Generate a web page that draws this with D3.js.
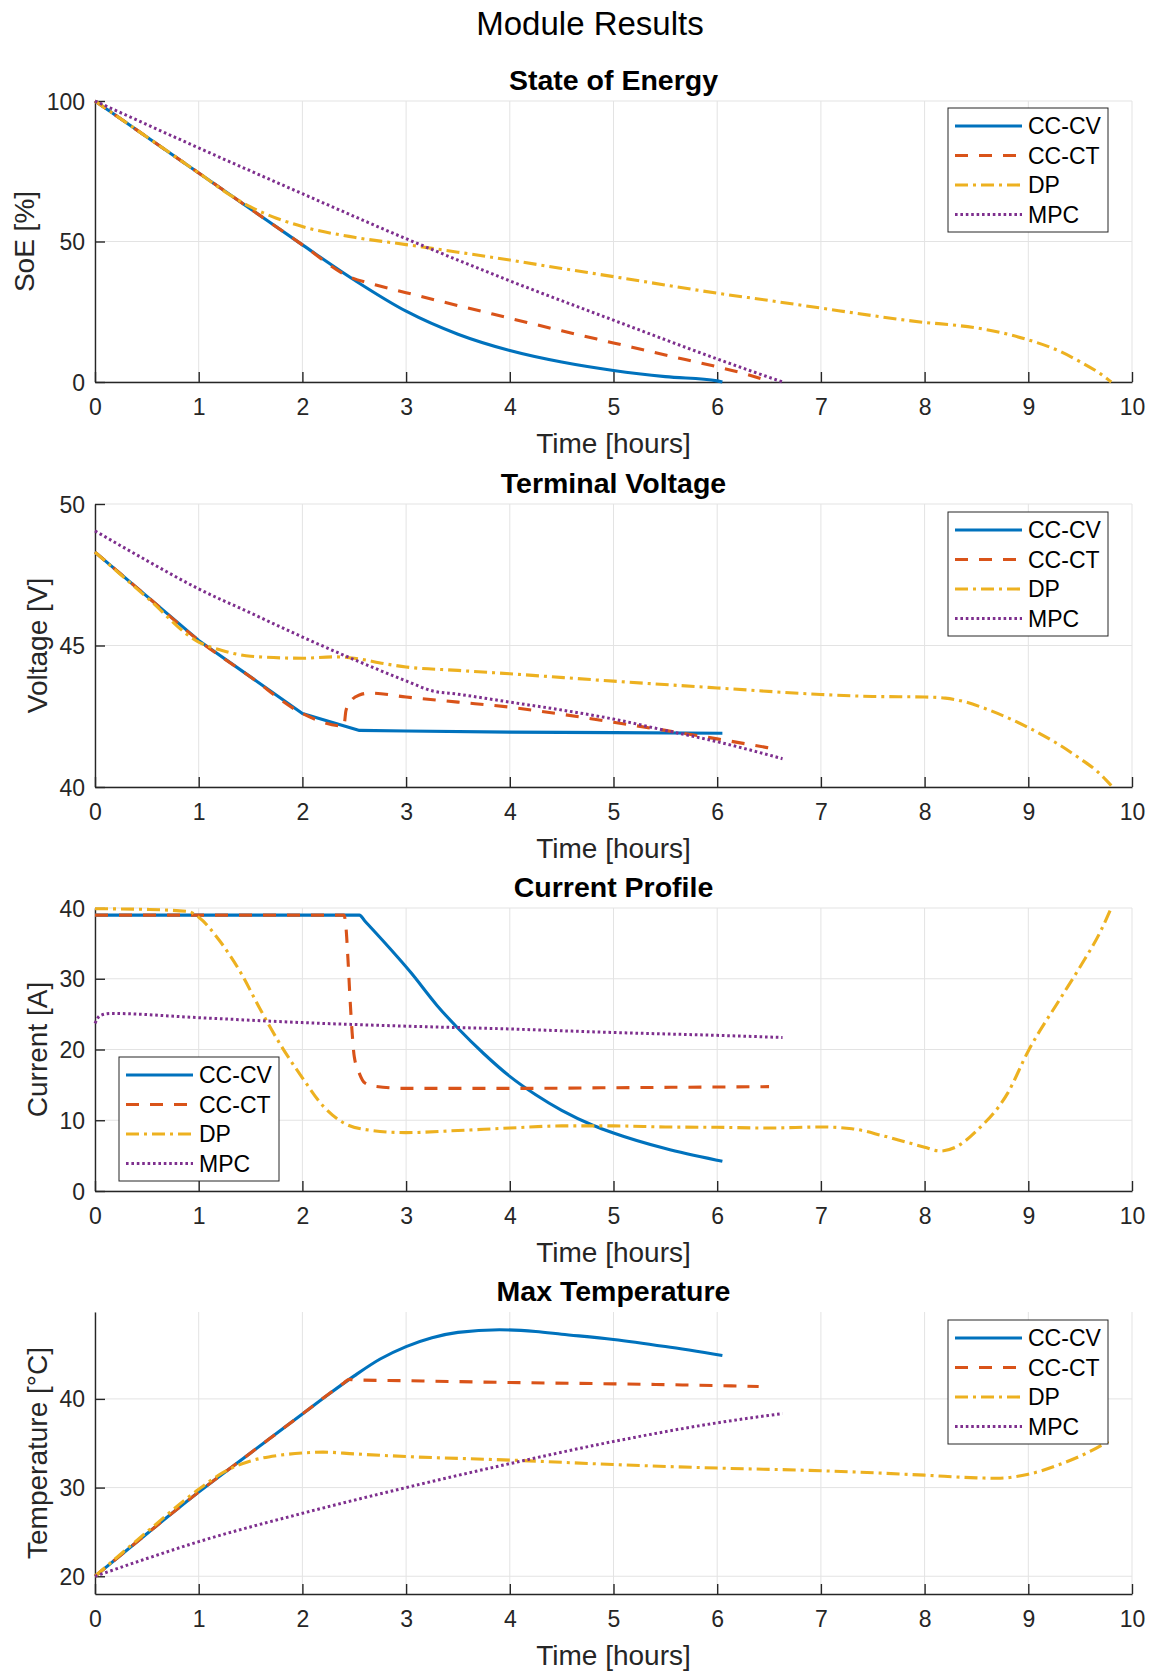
<!DOCTYPE html>
<html><head><meta charset="utf-8">
<script src="https://cdn.jsdelivr.net/npm/d3@7"></script>
<style>
body{margin:0;background:#fff}
text{font-family:"Liberation Sans",Arial,Helvetica,sans-serif}
</style>
</head><body>
<svg id="c" width="1155" height="1675"></svg>
<script>
// ---------- DATA ----------
const seriesNames = ["CC-CV", "CC-CT", "DP", "MPC"];
const timeTicks = [0,1,2,3,4,5,6,7,8,9,10];
const soeTicks = [0,50,100];
const voltTicks = [40,45,50];
const currTicks = [0,10,20,30,40];
const tempTicks = [20,30,40];

// State of Energy [%]
const soeCCCV = [[0,100],[0.5,87.2],[1,74.4],[1.5,61.6],[2,48.8],[2.5,36.3],[3,25.2],[3.5,17.0],[4,11.2],[4.5,7.1],[5,4.1],[5.5,1.9],[6,0.4],[6.05,0]];
const soeCCCT = [[0,100],[0.5,87.2],[1,74.4],[1.5,61.6],[2,48.8],[2.45,37.5],[2.7,34.6],[3,31.8],[3.5,27.2],[4,22.7],[4.5,18.2],[5,13.9],[5.5,9.6],[6,5.4],[6.25,3.1],[6.52,0]];
const soeDP = [[0,100],[0.5,87.2],[1,74.4],[1.3,66.6],[1.5,62.3],[1.75,58.3],[2,55.3],[2.5,51.5],[3,48.9],[3.5,46.2],[4,43.4],[4.5,40.4],[5,37.5],[5.5,34.5],[6,31.6],[6.5,29],[7,26.3],[7.5,23.6],[8,21.2],[8.3,20.2],[8.6,18.6],[9,15],[9.3,11],[9.5,7.2],[9.7,2.8],[9.8,0]];
const soeMPC = [[0,100],[1,83.3],[2,67],[3,51],[4,36],[5,22],[6,8.2],[6.63,0]];

// Terminal Voltage [V]
const voltCCCV = [[0,48.3],[1,45.18],[2,42.6],[2.55,42.0],[3,41.98],[4,41.94],[5,41.92],[6.05,41.9]];
const voltCCCT = [[0,48.3],[0.5,46.74],[1,45.18],[1.5,43.89],[2,42.6],[2.4,42.15],[2.42,42.7],[2.47,43.05],[2.55,43.25],[2.65,43.32],[3,43.18],[3.5,43.0],[4,42.82],[4.5,42.57],[5,42.29],[5.5,42.0],[6,41.7],[6.5,41.38]];
const voltDP = [[0,48.3],[0.5,46.7],[1,45.12],[1.25,44.8],[1.5,44.62],[2,44.55],[2.3,44.6],[2.5,44.55],[2.8,44.35],[3,44.24],[3.5,44.12],[4,44.0],[5,43.74],[6,43.5],[7,43.27],[7.5,43.2],[8,43.18],[8.2,43.14],[8.4,43.0],[8.6,42.75],[8.8,42.45],[9,42.1],[9.25,41.6],[9.5,41.0],[9.65,40.6],[9.8,40.05]];
const voltMPC = [[0,49.05],[0.5,48.0],[1,47.0],[1.5,46.15],[2,45.3],[2.5,44.5],[3,43.75],[3.25,43.4],[3.5,43.28],[4,43.0],[4.5,42.72],[5,42.4],[5.5,42.0],[6,41.6],[6.63,41.0]];

// Current Profile [A]
const currCCCV = [[0,39],[1,39],[2,39],[2.55,39],[2.6,38.2],[3.05,30.8],[3.3,26.2],[3.5,23.0],[3.75,19.4],[4,16.2],[4.25,13.6],[4.5,11.4],[4.8,9.3],[5,8.2],[5.5,6.0],[6,4.35],[6.05,4.2]];
const currCCCT = [[0,39],[1,39],[2,39],[2.4,39],[2.42,37.3],[2.44,32.6],[2.46,27],[2.48,22.3],[2.5,19],[2.55,16.6],[2.6,15.3],[2.7,14.8],[3,14.5],[4,14.5],[5,14.6],[6,14.7],[6.5,14.75]];
const currDP = [[0,39.9],[0.5,39.8],[0.9,39.5],[1,38.7],[1.2,35.4],[1.4,31],[1.6,25.5],[1.8,20.4],[2,16],[2.2,12],[2.4,9.6],[2.6,8.7],[3,8.25],[3.5,8.55],[4,8.9],[4.5,9.2],[5,9.2],[5.5,9.05],[6,9.0],[6.5,8.9],[7,9.05],[7.3,8.8],[7.6,7.8],[8,6.2],[8.15,5.65],[8.3,6.2],[8.5,8.5],[8.8,13.8],[9,19.8],[9.3,27],[9.5,31.7],[9.7,36.8],[9.8,40]];
const currMPC = [[0,23.7],[0.05,24.8],[0.15,25.1],[1,24.5],[2,23.8],[3,23.3],[4,22.9],[5,22.4],[6,22.0],[6.63,21.7]];

// Max Temperature [°C]
const tempCCCV = [[0,20],[0.5,24.8],[1,29.5],[1.5,33.9],[2,38.3],[2.25,40.5],[2.5,42.6],[2.75,44.5],[3,45.9],[3.25,46.9],[3.5,47.5],[3.9,47.8],[4.25,47.6],[4.5,47.3],[5,46.7],[5.5,45.9],[6.05,44.9]];
const tempCCCT = [[0,20],[0.5,24.8],[1,29.5],[1.5,33.9],[2,38.3],[2.4,41.8],[2.45,42.2],[2.5,42.15],[3,42.05],[4,41.85],[5,41.7],[6,41.5],[6.4,41.4]];
const tempDP = [[0,20],[0.5,25],[1,29.8],[1.25,31.8],[1.5,33],[1.75,33.6],[2,33.9],[2.2,34.0],[2.5,33.8],[3,33.5],[4,33.1],[5,32.6],[6,32.2],[7,31.9],[8,31.4],[8.5,31.1],[8.7,31.05],[9,31.5],[9.3,32.6],[9.6,34.1],[9.8,35.4]];
const tempMPC = [[0,20],[0.5,22.0],[1,23.9],[2,27.1],[3,30.0],[4,32.7],[5,35.2],[6,37.3],[6.63,38.35]];

// ---------- STYLE / LAYOUT ----------
const colors = ["#0072BD", "#D95319", "#EDB120", "#7E2F8E"];
const dashes = [null, "13,11", "13,5,3,5", "2.6,2.8"];
const widths = [3.1, 3.1, 3.1, 3.0];
const axisColor = "#262626";
const gridColor = "#e3e3e3";
const xLeft = 95, xRight = 1132;

const panels = [
  {title:"State of Energy", ylabel:"SoE [%]", top:101, bottom:382, domain:[0,100], ticks:soeTicks, series:[soeCCCV,soeCCCT,soeDP,soeMPC], legend:{x:948,y:108}, linear:[]},
  {title:"Terminal Voltage", ylabel:"Voltage [V]", top:504, bottom:787, domain:[40,50], ticks:voltTicks, series:[voltCCCV,voltCCCT,voltDP,voltMPC], legend:{x:948,y:512}, linear:[0]},
  {title:"Current Profile", ylabel:"Current [A]", top:908, bottom:1191, domain:[0,40], ticks:currTicks, series:[currCCCV,currCCCT,currDP,currMPC], legend:{x:119,y:1057}, linear:[]},
  {title:"Max Temperature", ylabel:"Temperature [°C]", top:1312, bottom:1594, domain:[18,49.8], ticks:tempTicks, series:[tempCCCV,tempCCCT,tempDP,tempMPC], legend:{x:948,y:1320}, linear:[]}
];

const svg = d3.select("#c");
svg.append("rect").attr("width",1155).attr("height",1675).attr("fill","#fff");

svg.append("text").attr("x",590).attr("y",23.5).attr("dy","0.35em")
  .attr("text-anchor","middle").attr("font-size",33).attr("fill","#000").text("Module Results");

const x = d3.scaleLinear().domain([0,10]).range([xLeft,xRight]);

panels.forEach(p => {
  const y = d3.scaleLinear().domain(p.domain).range([p.bottom,p.top]);
  const g = svg.append("g");

  // grid
  g.selectAll(".gx").data(timeTicks).join("line")
    .attr("x1",d=>x(d)).attr("x2",d=>x(d)).attr("y1",p.top).attr("y2",p.bottom)
    .attr("stroke",gridColor).attr("stroke-width",1);
  g.selectAll(".gy").data(p.ticks).join("line")
    .attr("x1",xLeft).attr("x2",xRight).attr("y1",d=>y(d)).attr("y2",d=>y(d))
    .attr("stroke",gridColor).attr("stroke-width",1);

  // axes (ticks inward)
  const xAxis = d3.axisBottom(x).tickValues(timeTicks).tickSizeInner(-10).tickSizeOuter(0).tickPadding(14).tickFormat(d3.format("d"));
  const yAxis = d3.axisLeft(y).tickValues(p.ticks).tickSizeInner(-10).tickSizeOuter(0).tickPadding(20).tickFormat(d3.format("d"));
  const gx = g.append("g").attr("transform",`translate(0,${p.bottom})`).call(xAxis);
  const gy = g.append("g").attr("transform",`translate(${xLeft},0)`).call(yAxis);
  [gx,gy].forEach(a=>{
    a.select(".domain").attr("stroke",axisColor).attr("stroke-width",1.4);
    a.selectAll(".tick line").attr("stroke",axisColor).attr("stroke-width",1.4);
    a.selectAll(".tick text").attr("fill",axisColor).attr("font-size",23)
      .attr("font-family",'"Liberation Sans",Arial,Helvetica,sans-serif');
  });
  gx.selectAll(".tick text").attr("dy",null).attr("y",25).attr("dominant-baseline","central");
  gy.selectAll(".tick text").attr("x",-10).attr("dy","0.35em");

  // lines
  p.series.forEach((s,i)=>{
    const line = d3.line().x(d=>x(d[0])).y(d=>y(d[1]))
      .curve(p.linear.includes(i) ? d3.curveLinear : d3.curveMonotoneX);
    g.append("path").datum(s).attr("d",line).attr("fill","none")
      .attr("stroke",colors[i]).attr("stroke-width",widths[i])
      .attr("stroke-dasharray",dashes[i]).attr("stroke-linejoin","round");
  });

  // title
  g.append("text").attr("x",(xLeft+xRight)/2).attr("y",p.top-21).attr("dy","0.35em")
    .attr("text-anchor","middle").attr("font-size",28.5).attr("font-weight","bold").attr("fill","#000").text(p.title);
  // x label
  g.append("text").attr("x",(xLeft+xRight)/2).attr("y",p.bottom+61).attr("dy","0.35em")
    .attr("text-anchor","middle").attr("font-size",28).attr("fill",axisColor).text("Time [hours]");
  // y label
  let maxW = 0;
  gy.selectAll(".tick text").each(function(){ maxW = Math.max(maxW, this.getBBox().width); });
  const lx = xLeft - 10 - maxW - 22;
  const ly = (p.top+p.bottom)/2;
  g.append("text").attr("transform",`translate(${lx},${ly}) rotate(-90)`).attr("dy","0.35em")
    .attr("text-anchor","middle").attr("font-size",28).attr("fill",axisColor).text(p.ylabel);

  // legend
  const L = g.append("g").attr("transform",`translate(${p.legend.x},${p.legend.y})`);
  L.append("rect").attr("width",160).attr("height",124).attr("fill","#fff")
    .attr("stroke",axisColor).attr("stroke-width",1);
  seriesNames.forEach((n,i)=>{
    const yy = 18 + i*29.5;
    L.append("line").attr("x1",7).attr("x2",74).attr("y1",yy).attr("y2",yy)
      .attr("stroke",colors[i]).attr("stroke-width",widths[i]).attr("stroke-dasharray",dashes[i]);
    L.append("text").attr("x",80).attr("y",yy).attr("dy","0.35em").attr("font-size",23).attr("fill","#000").text(n);
  });
});
</script>
</body></html>
